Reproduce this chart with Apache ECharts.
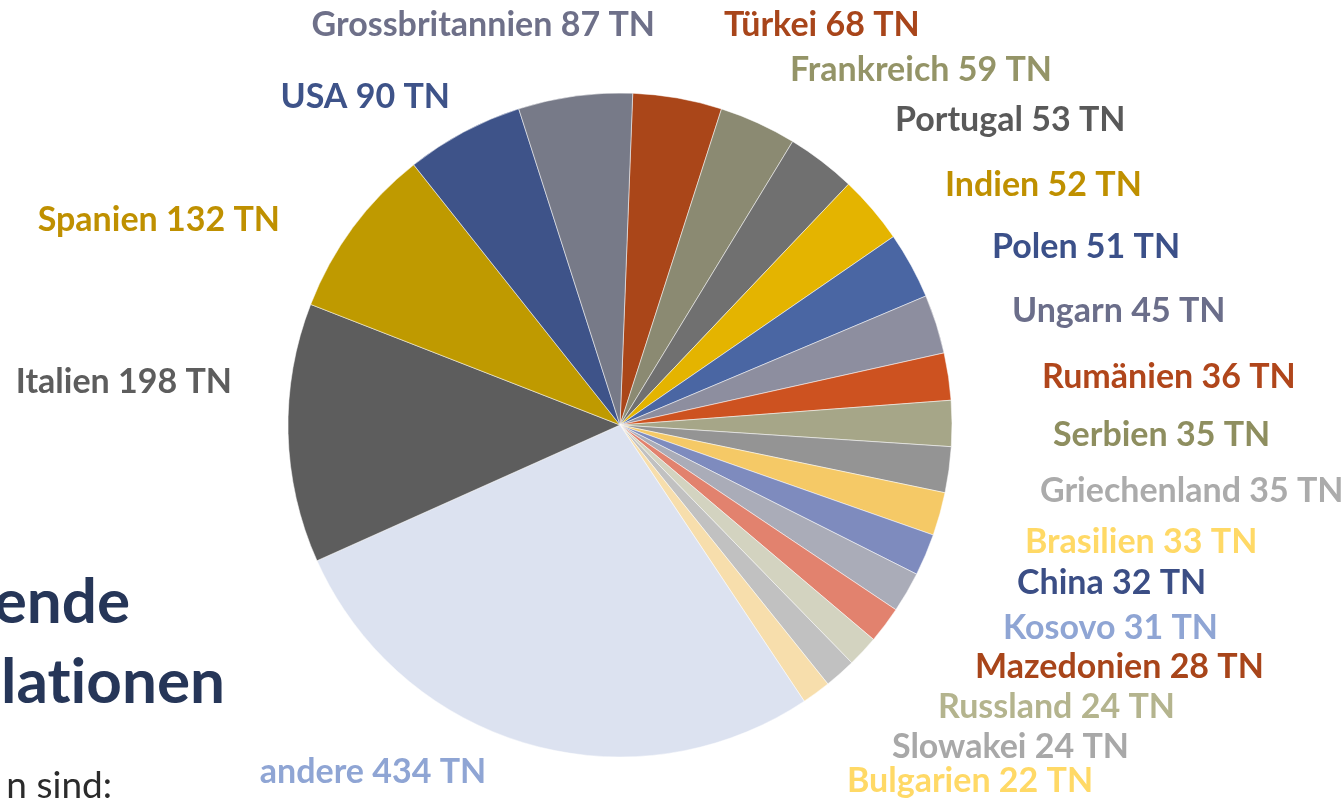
<!DOCTYPE html>
<html>
<head>
<meta charset="utf-8">
<script src="https://cdn.jsdelivr.net/npm/echarts@6/dist/echarts.min.js"></script>
<style>
html,body{margin:0;padding:0;background:#fff;}
#main{width:1344px;height:799px;}
</style>
</head>
<body>
<div id="main"></div>
<script>
// Länder und Werte (TN), im Uhrzeigersinn ab oben
var laender = ['Türkei','Frankreich','Portugal','Indien','Polen','Ungarn','Rumänien','Serbien','Griechenland','Brasilien','China','Kosovo','Mazedonien','Russland','Slowakei','Bulgarien','andere','Italien','Spanien','USA','Grossbritannien'];
var werte = [68,59,53,52,51,45,36,35,35,33,32,31,28,24,24,22,434,198,132,90,87];
var farben = ['#aa4619','#8b8a72','#707070','#e4b400','#4a66a3','#8d8e9f','#cd5220','#a6a688','#949494','#f5c966','#7e8bbe','#aaacb8','#e2826e','#d3d3c0','#c1c1c1','#f7deac','#dce2f0','#5d5d5d','#bf9a00','#3e5389','#777a88'];
var textFarben = ['#a8451a','#949467','#595959','#bf9000','#3b5089','#6b6e8a','#b0461b','#8e8e5f','#ababab','#ffd966','#3b4e85','#8fa5d4','#a8451a','#b4b48e','#a8a8a8','#ffd966','#8fa5d4','#5d5d5d','#bf9000','#3e5389','#6e7089'];
// Beschriftungsanker (x, y, Ausrichtung) wie auf der Folie verteilt
var labelAnker = [
	[724,25,'left'],[790,70,'left'],[895,120,'left'],[945,185,'left'],[992,247,'left'],
	[1012,311,'left'],[1042,377,'left'],[1053,435,'left'],[1040,491,'left'],[1025,542,'left'],
	[1017,583,'left'],[1003,628,'left'],[975,667,'left'],[938,707,'left'],[892,747,'left'],
	[847,781,'left'],[373,772,'center'],[232,382,'right'],[280,220,'right'],[450,97,'right'],[655,25,'right']
];

var myChart = echarts.init(document.getElementById('main'));
var daten = [];
for (var i = 0; i < laender.length; i++) {
	daten.push({
		name: laender[i],
		value: werte[i],
		itemStyle: {color: farben[i]},
		label: {color: textFarben[i]}
	});
}
var option = {
	backgroundColor: '#fff',
	graphic: [
		{type: 'text', right: 1214, top: 572, style: {text: 'ende', font: 'bold 62px Lato', fill: '#263658'}},
		{type: 'text', right: 1119, top: 652, style: {text: 'lat\u200Cionen', font: 'bold 62px Lato', fill: '#263658'}},
		{type: 'text', right: 1232, top: 768, style: {text: 'n sind:', font: '37px Lato', fill: '#2b2b2b'}}
	],
	series: [{
		type: 'pie',
		center: [620, 425],
		radius: 332,
		startAngle: 87.8,
		clockwise: true,
		animation: false,
		itemStyle: {borderColor: '#fff', borderWidth: 0.5},
		label: {
			show: true,
			position: 'outside',
			formatter: '{b} {c} TN',
			fontFamily: 'Lato',
			fontWeight: 'bold',
			fontSize: 34
		},
		labelLine: {show: false},
		labelLayout: function (params) {
			var a = labelAnker[params.dataIndex];
			return {x: a[0], y: a[1], align: a[2], verticalAlign: 'middle', hideOverlap: false, moveOverlap: null};
		},
		data: daten
	}]
};
myChart.setOption(option);
</script>
</body>
</html>
